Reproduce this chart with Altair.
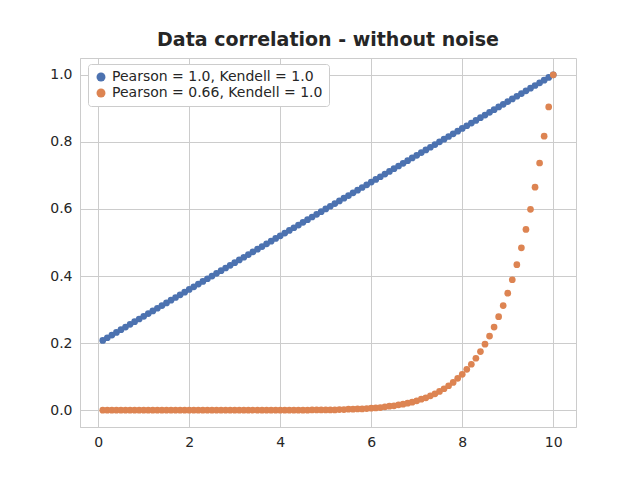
import altair as alt
import pandas as pd

x_vals = [0.1, 0.2, 0.3, 0.4, 0.5, 0.6, 0.7, 0.8, 0.9, 1.0,
          1.1, 1.2, 1.3, 1.4, 1.5, 1.6, 1.7, 1.8, 1.9, 2.0,
          2.1, 2.2, 2.3, 2.4, 2.5, 2.6, 2.7, 2.8, 2.9, 3.0,
          3.1, 3.2, 3.3, 3.4, 3.5, 3.6, 3.7, 3.8, 3.9, 4.0,
          4.1, 4.2, 4.3, 4.4, 4.5, 4.6, 4.7, 4.8, 4.9, 5.0,
          5.1, 5.2, 5.3, 5.4, 5.5, 5.6, 5.7, 5.8, 5.9, 6.0,
          6.1, 6.2, 6.3, 6.4, 6.5, 6.6, 6.7, 6.8, 6.9, 7.0,
          7.1, 7.2, 7.3, 7.4, 7.5, 7.6, 7.7, 7.8, 7.9, 8.0,
          8.1, 8.2, 8.3, 8.4, 8.5, 8.6, 8.7, 8.8, 8.9, 9.0,
          9.1, 9.2, 9.3, 9.4, 9.5, 9.6, 9.7, 9.8, 9.9, 10.0]

linear_vals = [0.208, 0.216, 0.224, 0.232, 0.240, 0.248, 0.256, 0.264, 0.272, 0.280,
               0.288, 0.296, 0.304, 0.312, 0.320, 0.328, 0.336, 0.344, 0.352, 0.360,
               0.368, 0.376, 0.384, 0.392, 0.400, 0.408, 0.416, 0.424, 0.432, 0.440,
               0.448, 0.456, 0.464, 0.472, 0.480, 0.488, 0.496, 0.504, 0.512, 0.520,
               0.528, 0.536, 0.544, 0.552, 0.560, 0.568, 0.576, 0.584, 0.592, 0.600,
               0.608, 0.616, 0.624, 0.632, 0.640, 0.648, 0.656, 0.664, 0.672, 0.680,
               0.688, 0.696, 0.704, 0.712, 0.720, 0.728, 0.736, 0.744, 0.752, 0.760,
               0.768, 0.776, 0.784, 0.792, 0.800, 0.808, 0.816, 0.824, 0.832, 0.840,
               0.848, 0.856, 0.864, 0.872, 0.880, 0.888, 0.896, 0.904, 0.912, 0.920,
               0.928, 0.936, 0.944, 0.952, 0.960, 0.968, 0.976, 0.984, 0.992, 1.000]

power_vals = [0.0] * 46 + [
    0.001, 0.001, 0.001, 0.001,
    0.001, 0.001, 0.002, 0.002, 0.003, 0.003, 0.004, 0.004, 0.005, 0.006,
    0.007, 0.008, 0.010, 0.012, 0.013, 0.016, 0.018, 0.021, 0.024, 0.028,
    0.033, 0.037, 0.043, 0.049, 0.056, 0.064, 0.073, 0.083, 0.095, 0.107,
    0.122, 0.137, 0.155, 0.175, 0.197, 0.221, 0.248, 0.279, 0.312, 0.349,
    0.389, 0.434, 0.484, 0.539, 0.599, 0.665, 0.737, 0.817, 0.904, 1.000]

labels = ["Pearson = 1.0, Kendell = 1.0", "Pearson = 0.66, Kendell = 1.0"]

df = pd.concat([
    pd.DataFrame({"x": x_vals, "y": linear_vals, "serie": labels[0]}),
    pd.DataFrame({"x": x_vals, "y": power_vals, "serie": labels[1]}),
])

chart = alt.Chart(df).mark_circle(size=45, opacity=1).encode(
    x=alt.X("x:Q", scale=alt.Scale(domain=[-0.4, 10.5], nice=False, zero=False),
            axis=alt.Axis(values=[0, 2, 4, 6, 8, 10], title=None, format="d")),
    y=alt.Y("y:Q", scale=alt.Scale(domain=[-0.05, 1.05], nice=False),
            axis=alt.Axis(values=[0, 0.2, 0.4, 0.6, 0.8, 1.0], format=".1f", title=None)),
    color=alt.Color("serie:N", sort=labels,
                    scale=alt.Scale(domain=labels, range=["#4c72b0", "#dd8452"]),
                    legend=alt.Legend(title=None, orient="none", legendX=8, legendY=6,
                                      fillColor="white", strokeColor="#cccccc",
                                      padding=6, cornerRadius=3, labelFontSize=14,
                                      labelLimit=400, symbolSize=80,
                                      labelColor="#262626")),
).properties(
    width=496, height=369,
    autosize=alt.AutoSizeParams(type="none"),
    padding={"left": 72, "top": 50, "right": 56, "bottom": 45},
    title=alt.Title("Data correlation - without noise", fontSize=19, fontWeight="bold",
                    color="#262626", offset=8)
).configure(font="DejaVu Sans").configure_axis(
    gridColor="#cccccc", domainColor="#cccccc", tickSize=0, labelFontSize=14,
    labelColor="#262626", labelPadding=8
).configure_view(stroke="#cccccc")

chart.save("out.html", embed_options={"renderer": "svg", "actions": False})
